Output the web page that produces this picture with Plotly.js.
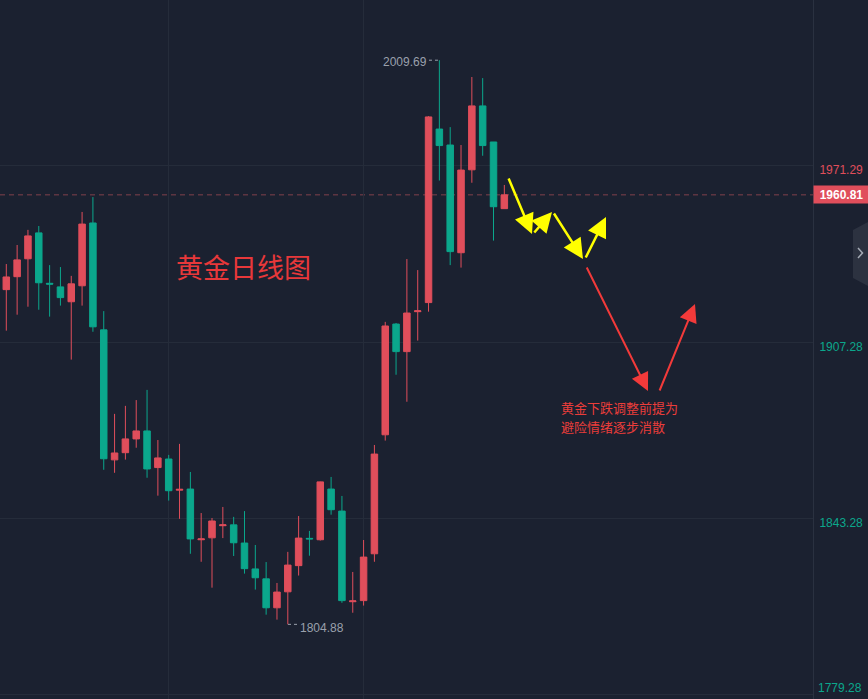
<!DOCTYPE html>
<html><head><meta charset="utf-8">
<script src="https://cdn.plot.ly/plotly-3.0.1.min.js"></script>
<style>html,body{margin:0;padding:0;background:#1b2130;overflow:hidden}#chart{width:868px;height:699px}</style>
</head><body><div id="chart"></div><script>
// ---- data ----
const candle = [1,2,3,4,5,6,7,8,9,10,11,12,13,14,15,16,17,18,19,20,21,22,23,24,25,26,27,28,29,30,31,32,33,34,35,36,37,38,39,40,41,42,43,44,45,46,47];
const open  = [1926.4,1931.1,1937.6,1947.0,1928.7,1927.4,1922.0,1927.8,1950.6,1911.8,1864.6,1867.2,1872.2,1875.1,1861.8,1864.9,1853.6,1854.0,1835.6,1836.3,1840.7,1841.0,1834.4,1825.0,1821.4,1810.9,1816.7,1826.2,1836.1,1835.6,1854.0,1846.0,1813.1,1813.5,1830.5,1873.7,1913.9,1903.9,1918.4,1921.7,1984.7,1978.9,1939.8,1969.9,1993.1,1980.0,1955.8];
const high  = [1935.7,1942.6,1948.1,1949.5,1935.3,1934.6,1931.4,1954.6,1960.0,1918.6,1881.3,1884.2,1886.3,1890.0,1871.8,1866.4,1870.4,1860.2,1845.3,1843.5,1847.5,1843.9,1846.0,1833.7,1827.5,1819.9,1831.2,1844.2,1838.8,1856.7,1858.4,1851.5,1823.9,1835.5,1870.0,1914.7,1914.3,1937.5,1933.5,1989.4,2009.69,1985.4,1978.9,2003.6,2003.2,1980.0,1964.4];
const low   = [1911.5,1917.3,1920.2,1919.1,1916.6,1920.6,1901.0,1920.6,1911.1,1861.0,1859.9,1864.7,1869.0,1858.1,1851.6,1849.8,1843.2,1830.5,1827.6,1818.2,1836.2,1829.7,1823.3,1817.5,1808.4,1806.6,1804.88,1822.6,1829.8,1835.3,1844.7,1812.7,1809.1,1811.7,1827.6,1871.6,1895.5,1885.7,1907.9,1918.4,1966.0,1935.3,1934.4,1965.2,1975.0,1944.2,1955.8];
const close = [1931.0,1937.2,1945.9,1928.9,1928.4,1923.5,1928.5,1950.2,1912.9,1865.0,1867.1,1872.2,1875.1,1861.3,1865.3,1853.4,1853.9,1835.9,1835.9,1842.4,1841.0,1834.5,1825.1,1821.8,1810.9,1816.6,1826.4,1836.2,1835.9,1856.6,1846.5,1813.5,1813.4,1829.3,1866.7,1913.2,1903.9,1917.9,1918.7,1989.1,1978.7,1940.2,1969.8,1993.1,1978.7,1956.5,1960.81];
const priceTicks = [1779.28, 1843.28, 1907.28, 1971.29];
const topTick = 2035.29;
const lastPrice = 1960.81;
const highLabel = 2009.69, highIdx = 41;
const lowLabel = 1804.88, lowIdx = 27;
const title = '黄金日线图';
const noteLines = ['黄金下跌调整前提为', '避险情绪逐步消散'];

// ---- styling / geometry ----
const RED = '#e04e5b', TEAL = '#0ba78c', BG = '#1b2130', GRID = '#252c3a';
const X0 = 0.418, X1 = 75.51, Y0 = 1777.78, Y1 = 2031.55, PW = 813, PH = 699;
const px2x = p => X0 + p / PW * (X1 - X0);
const py2y = p => Y1 - p / PH * (Y1 - Y0);
const pyPaper = p => 1 - p / PH;
const pxPaper = p => p / PW;

const trace = {
  type: 'candlestick', x: candle, open, high, low, close,
  increasing: {line: {color: RED, width: 1}, fillcolor: RED},
  decreasing: {line: {color: TEAL, width: 1}, fillcolor: TEAL},
  whiskerwidth: 0, hoverinfo: 'skip', showlegend: false
};

const tickText = priceTicks.map(v => v === priceTicks[0] ? '' :
  (v > lastPrice ? '<span style="color:' + RED + '">' + v.toFixed(2) + '</span>' : v.toFixed(2)));

function arrow(x1, y1, x2, y2, color, w, size) {
  return {x: px2x(x2), y: py2y(y2), ax: px2x(x1), ay: py2y(y1), xref: 'x', yref: 'y', axref: 'x', ayref: 'y',
    text: '', showarrow: true, arrowhead: 2, arrowsize: size, arrowwidth: w, arrowcolor: color, standoff: 0, startstandoff: 0};
}

const annotations = [
  {text: title, xref: 'paper', yref: 'paper', x: pxPaper(243.5), y: pyPaper(266), xanchor: 'center', yanchor: 'middle', showarrow: false,
   font: {family: 'Noto Sans CJK SC', size: 27, color: '#e8383a'}},
  {text: noteLines[0], xref: 'paper', yref: 'paper', x: pxPaper(559), y: pyPaper(407), xanchor: 'left', yanchor: 'middle', align: 'left', showarrow: false,
   font: {family: 'Noto Sans CJK SC', size: 13, color: '#ea3d3a'}},
  {text: noteLines[1], xref: 'paper', yref: 'paper', x: pxPaper(559), y: pyPaper(427), xanchor: 'left', yanchor: 'middle', align: 'left', showarrow: false,
   font: {family: 'Noto Sans CJK SC', size: 13, color: '#ea3d3a'}},
  {text: highLabel.toFixed(2), x: highIdx, y: highLabel, xref: 'x', yref: 'y', xanchor: 'right', yanchor: 'middle', xshift: -10, yshift: -2, showarrow: false,
   font: {family: 'Liberation Sans', size: 12, color: '#9aa0ac'}},
  {text: lowLabel.toFixed(2), x: lowIdx, y: lowLabel, xref: 'x', yref: 'y', xanchor: 'left', yanchor: 'middle', xshift: 10, yshift: -4, showarrow: false,
   font: {family: 'Liberation Sans', size: 12, color: '#9aa0ac'}},
  {text: '<b>' + lastPrice.toFixed(2) + '</b>', xref: 'paper', yref: 'y', x: 1, y: lastPrice, xanchor: 'left', yanchor: 'middle', showarrow: false,
   bgcolor: RED, width: 51, height: 13, borderpad: 2, font: {family: 'Liberation Sans', size: 12, color: '#ffffff'}},
  {text: topTick.toFixed(2), xref: 'paper', yref: 'paper', x: 1, y: 1 + (topTick - Y1) / (Y1 - Y0), xanchor: 'left', yanchor: 'middle', xshift: 3, yshift: -3, showarrow: false,
   font: {family: 'Liberation Sans', size: 12, color: RED}},
  {text: priceTicks[0].toFixed(2), xref: 'paper', yref: 'paper', x: 1, y: pyPaper(688), xanchor: 'left', yanchor: 'middle', xshift: 3, showarrow: false,
   font: {family: 'Liberation Sans', size: 12, color: TEAL}},
  arrow(508, 177, 532, 234, '#ffff00', 2.5, 1.6),
  arrow(533, 234, 552, 212, '#ffff00', 2.5, 1.6),
  arrow(553, 212, 583, 259, '#ffff00', 2.5, 1.6),
  arrow(585, 259, 606, 217, '#ffff00', 2.5, 1.6),
  arrow(586, 266, 648, 391, '#f23a3a', 2, 1.8),
  arrow(659, 392, 695, 304, '#f23a3a', 2, 1.8)
];

const shapes = [
  {type: 'line', xref: 'paper', x0: 0, x1: 1, yref: 'y', y0: lastPrice, y1: lastPrice, line: {color: '#80404c', width: 1, dash: '5px,4px'}, layer: 'below'},
  {type: 'line', xref: 'x', yref: 'y', x0: highIdx - 0.96, x1: highIdx - 0.12, y0: highLabel, y1: highLabel, line: {color: '#9aa0ac', width: 1, dash: 'dot'}},
  {type: 'line', xref: 'x', yref: 'y', x0: lowIdx + 0.02, x1: lowIdx + 0.85, y0: lowLabel, y1: lowLabel, line: {color: '#9aa0ac', width: 1, dash: 'dot'}},
  {type: 'path', xref: 'paper', yref: 'paper',
   path: 'M' + pxPaper(868) + ',' + pyPaper(222) + ' L' + pxPaper(853) + ',' + pyPaper(230) + ' L' + pxPaper(853) + ',' + pyPaper(278) + ' L' + pxPaper(868) + ',' + pyPaper(286) + ' Z',
   fillcolor: '#2c3240', line: {width: 0}},
  {type: 'path', xref: 'paper', yref: 'paper',
   path: 'M' + pxPaper(858) + ',' + pyPaper(248) + ' L' + pxPaper(862.5) + ',' + pyPaper(253) + ' L' + pxPaper(858) + ',' + pyPaper(258),
   line: {color: '#a4aab4', width: 1.5}}
];

const layout = {
  width: 868, height: 699, margin: {l: 0, r: 55, t: 0, b: 0},
  paper_bgcolor: BG, plot_bgcolor: BG, showlegend: false, hovermode: false,
  boxgap: 0.4, boxgroupgap: 0,
  xaxis: {range: [X0, X1], rangeslider: {visible: false}, showticklabels: false, tickvals: [16, 34], showgrid: true, gridcolor: GRID,
          zeroline: false, showline: false, ticks: '', fixedrange: true},
  yaxis: {side: 'right', range: [Y0, Y1], tickvals: priceTicks, ticktext: tickText, showgrid: true, gridcolor: GRID, zeroline: false,
          showline: true, linecolor: '#2a3140', linewidth: 1, ticks: '', ticklabelstandoff: 3, ticklabelshift: 4,
          tickfont: {family: 'Liberation Sans', size: 12, color: TEAL}, fixedrange: true},
  annotations, shapes
};
Plotly.newPlot('chart', [trace], layout, {displayModeBar: false, staticPlot: true});
</script></body></html>
